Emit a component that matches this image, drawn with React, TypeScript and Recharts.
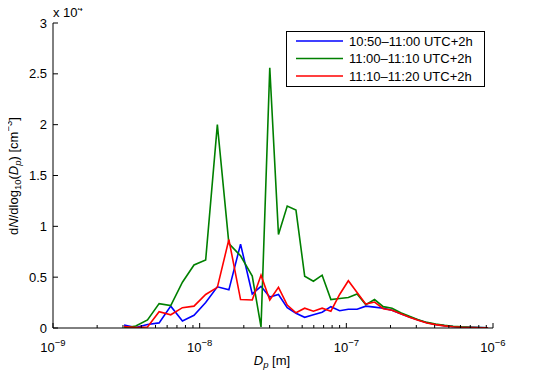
import React from 'react';
import { LineChart, Line, XAxis, YAxis } from 'recharts';

// particle diameter Dp [m]
const diameters = [
  3.05e-9, 3.67e-9, 4.41e-9, 5.29e-9, 6.35e-9, 7.63e-9, 9.15e-9, 1.099e-8, 1.32e-8, 1.582e-8,
  1.9e-8, 2.283e-8, 2.62e-8, 3.006e-8, 3.446e-8, 3.954e-8, 4.535e-8, 5.2e-8, 5.964e-8, 6.84e-8,
  7.846e-8, 9.0e-8, 1.032e-7, 1.184e-7, 1.358e-7, 1.557e-7, 1.785e-7, 2.048e-7, 2.348e-7, 2.693e-7,
  3.089e-7, 3.542e-7, 4.062e-7, 4.661e-7, 5.345e-7, 6.13e-7, 7.03e-7, 8.064e-7, 9.25e-7,
];

// dN/dlog10(Dp) [cm^-3]
const blueValues = [
  300, 50, 350, 500, 2150, 700, 1250, 2500, 4050, 3750,
  8250, 3350, 4100, 3050, 3300, 2000, 1450, 1050, 1300, 1550,
  2100, 1700, 1850, 1850, 2150, 2050, 1950, 1750, 1400, 1080,
  780, 520, 350, 230, 150, 95, 60, 35, 15,
];
const greenValues = [
  0, 200, 800, 2400, 2200, 4500, 6200, 6700, 20000, 8300,
  7100, 5100, 100, 25600, 9200, 12000, 11600, 5100, 4600, 5200,
  2800, 2900, 3000, 3350, 2300, 2800, 2100, 1950, 1500, 1150,
  820, 550, 380, 260, 170, 110, 70, 40, 15,
];
const redValues = [
  150, 50, 100, 1600, 1300, 2000, 2150, 3300, 4000, 8700,
  2800, 2750, 5200, 2750, 4000, 2250, 1500, 1950, 1650, 1950,
  1650, 3300, 4650, 3500, 2350, 2550, 1900, 1750, 1400, 1050,
  760, 500, 330, 210, 130, 80, 50, 30, 10,
];

const seriesNames = ['10:50\u201311:00 UTC+2h', '11:00\u201311:10 UTC+2h', '11:10\u201311:20 UTC+2h'];
const seriesKeys = ['blue', 'green', 'red'];
const seriesColors = ['#0000ff', '#008000', '#ff0000'];

const majorXTicks = [1e-9, 1e-8, 1e-7, 1e-6];
const xTickExponents = ['\u22129', '\u22128', '\u22127', '\u22126'];
const minorMultipliers = [2, 3, 4, 5, 6, 7, 8, 9];
const yTicks = [0, 5000, 10000, 15000, 20000, 25000, 30000];
const yTickLabels = ['0', '0.5', '1', '1.5', '2', '2.5', '3'];

const allXTicks: number[] = [];
majorXTicks.forEach((m, i) => {
  allXTicks.push(m);
  if (i < majorXTicks.length - 1) minorMultipliers.forEach((k) => allXTicks.push(k * m));
});

const data = diameters.map((d, i) => ({
  d,
  blue: blueValues[i],
  green: greenValues[i],
  red: redValues[i],
}));

const FONT = '"Liberation Sans", Arial, Helvetica, sans-serif';
const FS = 13;
const SFS = 9.5;

const majorIndex = (v: number) =>
  majorXTicks.findIndex((m) => Math.abs(Math.log10(v) - Math.log10(m)) < 1e-6);

function BottomTick(props: any) {
  const { x, y, payload } = props;
  const mi = majorIndex(payload.value);
  const len = mi >= 0 ? 5 : 3;
  return (
    <g>
      <line x1={x} y1={y} x2={x} y2={y - len} stroke="#000" strokeWidth={1} />
      {mi >= 0 && (
        <text x={x} y={y + 24} textAnchor="middle" fontSize={FS} fontFamily={FONT} fill="#000">
          10<tspan dy={-6} fontSize={SFS}>{xTickExponents[mi]}</tspan>
        </text>
      )}
    </g>
  );
}

function TopTick(props: any) {
  const { x, y, payload } = props;
  const mi = majorIndex(payload.value);
  const len = mi >= 0 ? 5 : 3;
  return <line x1={x} y1={y} x2={x} y2={y + len} stroke="#000" strokeWidth={1} />;
}

function LeftTick(props: any) {
  const { x, y, payload } = props;
  const idx = yTicks.indexOf(payload.value);
  return (
    <g>
      <line x1={x} y1={y} x2={x + 5} y2={y} stroke="#000" strokeWidth={1} />
      <text x={x - 6} y={y} dy="0.35em" textAnchor="end" fontSize={FS} fontFamily={FONT} fill="#000">
        {yTickLabels[idx]}
      </text>
    </g>
  );
}

function RightTick(props: any) {
  const { x, y } = props;
  return <line x1={x} y1={y} x2={x - 5} y2={y} stroke="#000" strokeWidth={1} />;
}

export default function App() {
  const W = 550;
  const H = 368;
  return (
    <div style={{ position: 'relative', width: W, height: H, background: '#fff' }}>
      <LineChart
        width={W}
        height={H}
        data={data}
        margin={{ top: 15, right: 65, bottom: 18, left: 0 }}
      >
        <XAxis
          dataKey="d"
          type="number"
          scale="log"
          domain={[1e-9, 1e-6]}
          allowDataOverflow
          ticks={allXTicks}
          interval={0}
          tick={<BottomTick />}
          tickLine={false}
          tickSize={0}
          tickMargin={0}
          height={30}
          axisLine={{ stroke: '#000' }}
        />
        <XAxis
          xAxisId="top"
          orientation="top"
          dataKey="d"
          type="number"
          scale="log"
          domain={[1e-9, 1e-6]}
          allowDataOverflow
          ticks={allXTicks}
          interval={0}
          tick={<TopTick />}
          tickLine={false}
          tickSize={0}
          tickMargin={0}
          height={0}
          axisLine={{ stroke: '#000' }}
        />
        <YAxis
          type="number"
          domain={[0, 30000]}
          allowDataOverflow
          ticks={yTicks}
          interval={0}
          tick={<LeftTick />}
          tickLine={false}
          tickSize={0}
          tickMargin={0}
          width={45}
          axisLine={{ stroke: '#000' }}
        />
        <YAxis
          yAxisId="right"
          orientation="right"
          type="number"
          domain={[0, 30000]}
          allowDataOverflow
          ticks={yTicks}
          interval={0}
          tick={<RightTick />}
          tickLine={false}
          tickSize={0}
          tickMargin={0}
          width={0}
          axisLine={{ stroke: '#000' }}
        />
        {seriesKeys.map((k, i) => (
          <Line
            key={k}
            dataKey={k}
            name={seriesNames[i]}
            type="linear"
            stroke={seriesColors[i]}
            strokeWidth={1.6}
            dot={false}
            activeDot={false}
            isAnimationActive={false}
          />
        ))}
      </LineChart>
      <svg
        width={W}
        height={H}
        overflow="visible"
        style={{ position: 'absolute', left: 0, top: 0, pointerEvents: 'none', overflow: 'visible' }}
      >
        <text x={45} y={9} fontSize={FS} fontFamily={FONT} fill="#000">
          x 10<tspan dy={-6} fontSize={SFS}>4</tspan>
        </text>
        <text
          transform="translate(10,168) rotate(-90)"
          textAnchor="middle"
          fontSize={FS}
          fontFamily={FONT}
          fill="#000"
        >
          d<tspan fontStyle="italic">N</tspan>/dlog<tspan dy={3} fontSize={SFS}>10</tspan>
          <tspan dy={-3}>(</tspan><tspan fontStyle="italic">D</tspan>
          <tspan dy={3} fontSize={SFS} fontStyle="italic">p</tspan>
          <tspan dy={-3}>) [cm</tspan><tspan dy={-6} fontSize={SFS}>{'\u22123'}</tspan>
          <tspan dy={6}>]</tspan>
        </text>
        <text x={264} y={357} textAnchor="middle" fontSize={FS} fontFamily={FONT} fill="#000">
          <tspan fontStyle="italic">D</tspan>
          <tspan dy={3} fontSize={SFS} fontStyle="italic">p</tspan>
          <tspan dy={-3}> [m]</tspan>
        </text>
        <g transform="translate(278,23)">
          <rect x={0.5} y={0.5} width={198} height={55} fill="#fff" stroke="#000" strokeWidth={1} />
          {seriesNames.map((n, i) => (
            <g key={n} transform={`translate(0,${10 + i * 17.5})`}>
              <line x1={10} y1={0} x2={57} y2={0} stroke={seriesColors[i]} strokeWidth={1.6} />
              <text x={63} y={0} dy="0.35em" fontSize={FS} fontFamily={FONT} fill="#000">
                {n}
              </text>
            </g>
          ))}
        </g>
      </svg>
    </div>
  );
}
